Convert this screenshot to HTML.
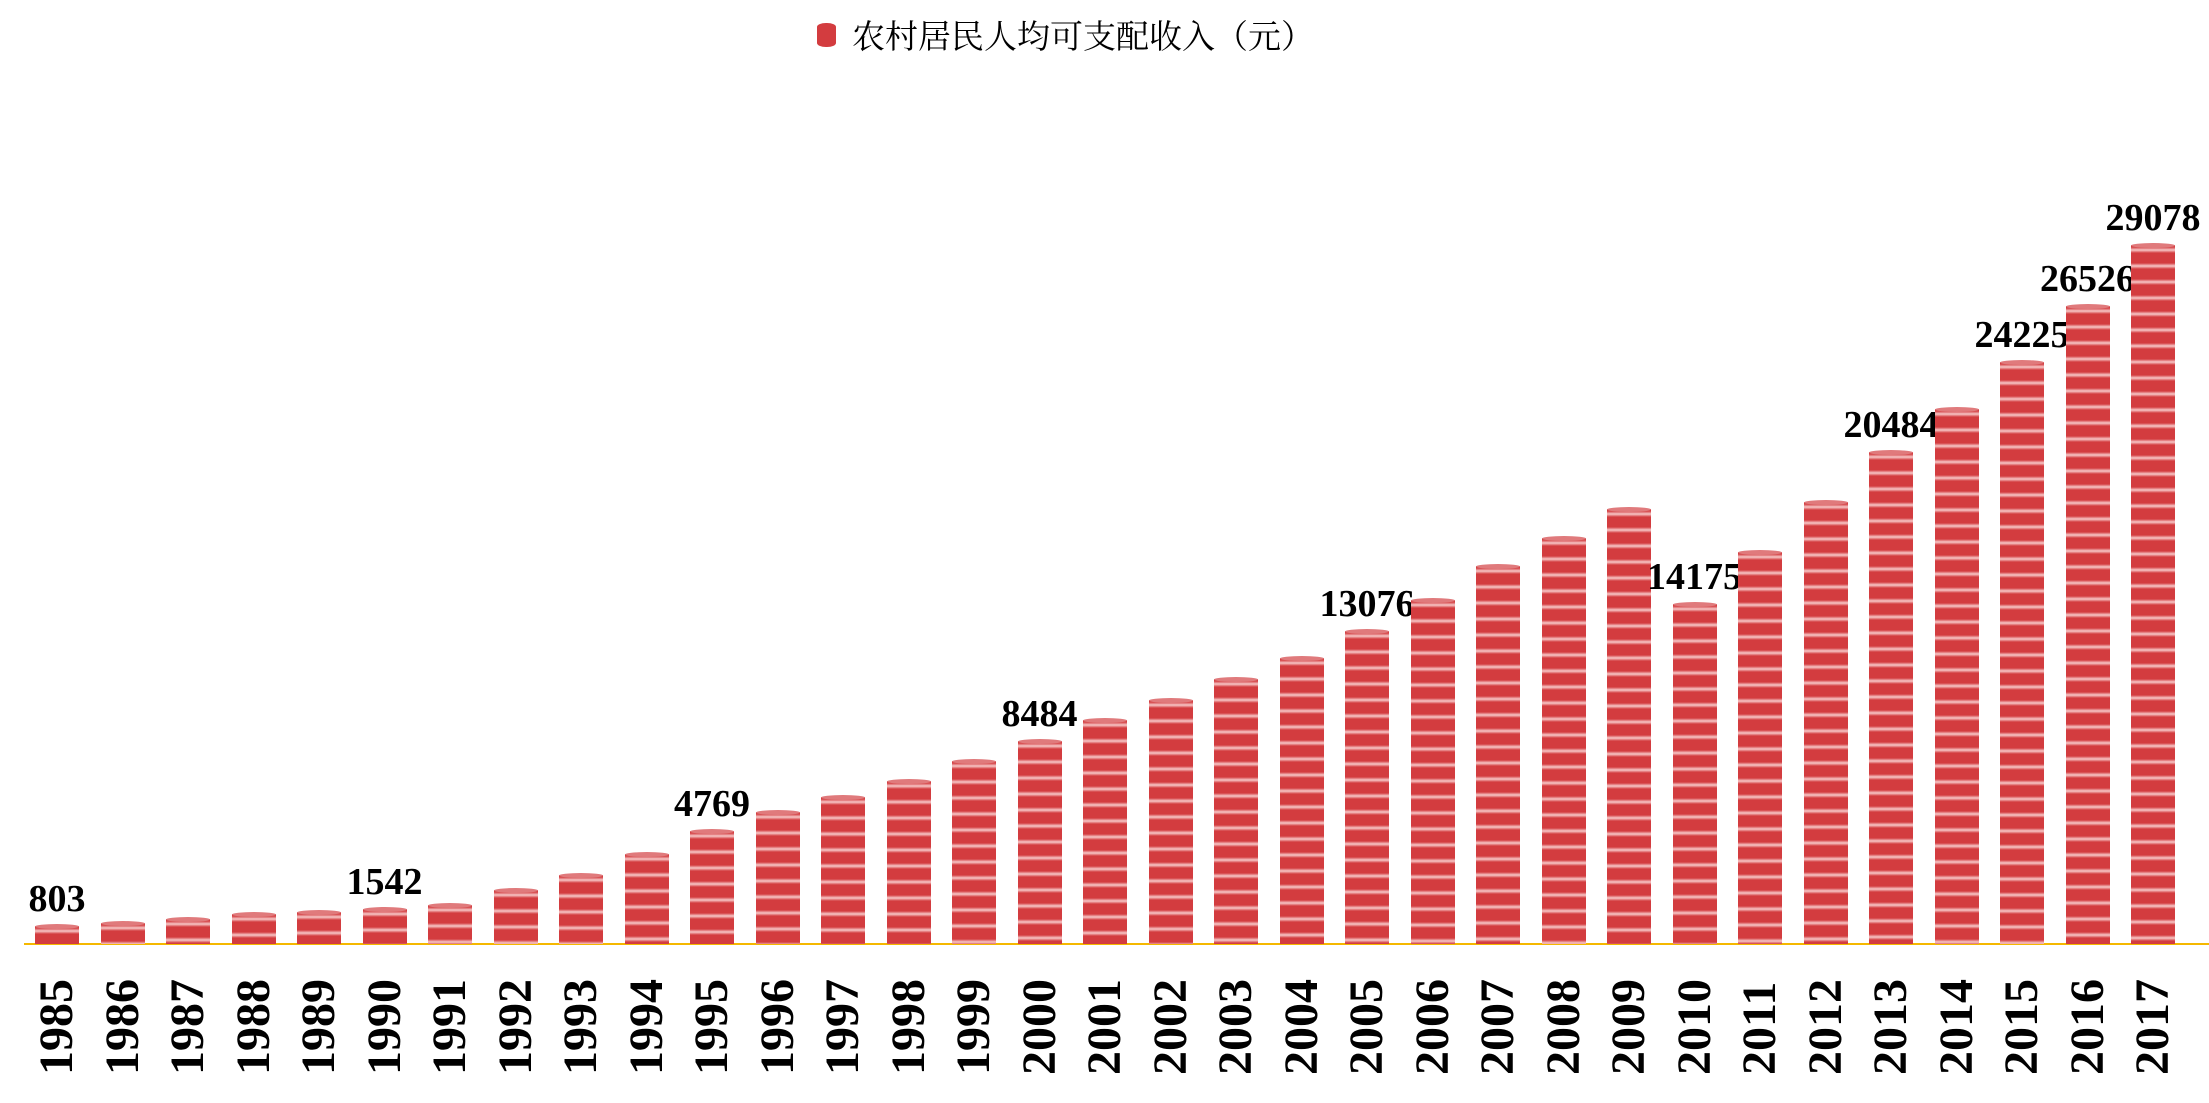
<!DOCTYPE html>
<html><head><meta charset="utf-8"><style>
body{margin:0;width:2209px;height:1103px;background:#fff;position:relative;overflow:hidden;font-family:"Liberation Serif","Noto Serif CJK SC",serif}
.bar{position:absolute;width:44px;bottom:159px;background:repeating-linear-gradient(to bottom,#d33c3f 0px,#d33c3f 2px,#f7c8c8 5px,#d33c3f 8px,#d33c3f 16px)}
.bar:before{content:"";position:absolute;left:0;right:0;top:-2px;height:5px;border-radius:50%;background:#e07a7c}
.lab{position:absolute;font-weight:bold;font-size:38px;width:200px;text-align:center;line-height:1}
.yr{position:absolute;font-weight:bold;font-size:48px;line-height:1;transform:rotate(-90deg);transform-origin:0 0;white-space:nowrap}
</style></head><body>
<div style="position:absolute;left:817px;top:23px;width:19px;height:24px;background:#d33c3f;border-radius:9px/4px"></div>
<div style="position:absolute;left:852px;top:11px;font-size:33px;font-family:'Liberation Serif','Noto Serif CJK SC',serif;white-space:nowrap">农村居民人均可支配收入（元）</div>
<div style="position:absolute;left:24px;top:943px;width:2185px;height:2px;background:#f5b800"></div>
<div id="c"></div>
<script>
var tops=[657,655,652,649,647,645,642,632,621,606,590,576,566,554,540,526,511,497,482,467,448,426,402,382,361,429,392,356,321,290,257,217,174];
var labs={1985:"803",1990:"1542",1995:"4769",2000:"8484",2005:"13076",2010:"14175",2013:"20484",2015:"24225",2016:"26526",2017:"29078"};
var h="";
for(var i=0;i<33;i++){var y=1985+i;var cx=57+i*65.5;var ht=(670-tops[i])*1.409;if(i==32)ht=699;if(i==0)ht=18;
h+='<div class="bar" style="left:'+(cx-22)+'px;height:'+ht+'px"></div>';
h+='<div class="yr" style="left:'+(cx-24)+'px;top:1075px">'+y+'</div>';
if(labs[y]){h+='<div class="lab" style="left:'+(cx-100)+'px;top:'+(944-ht-46)+'px">'+labs[y]+'</div>';}}
document.getElementById("c").innerHTML=h;
</script>
</body></html>
